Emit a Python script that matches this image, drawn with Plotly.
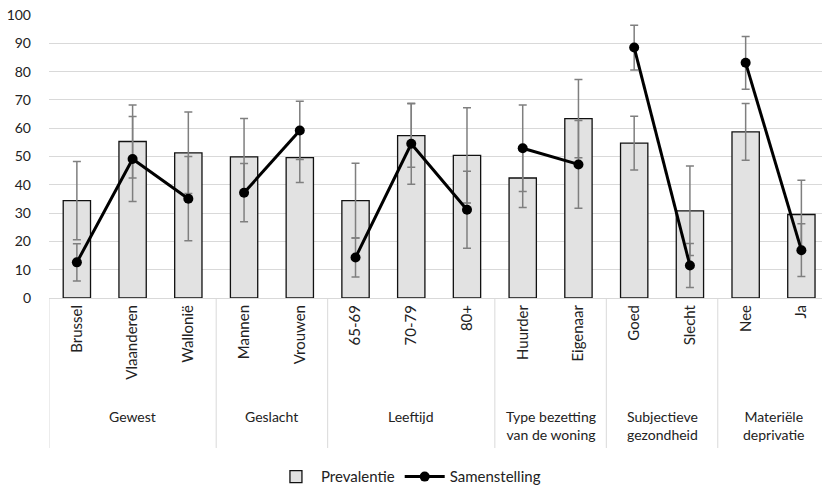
import plotly.graph_objects as go

categories = ["Brussel", "Vlaanderen", "Wallonië", "Mannen", "Vrouwen", "65-69", "70-79", "80+",
              "Huurder", "Eigenaar", "Goed", "Slecht", "Nee", "Ja"]
prevalentie = [34.4, 55.3, 51.3, 49.9, 49.6, 34.4, 57.4, 50.4, 42.4, 63.4, 54.7, 30.8, 58.7, 29.5]
prevalentie_err = [13.8, 12.9, 14.4, 13.5, 8.8, 13.2, 11.2, 16.8, 10.4, 13.8, 9.5, 15.8, 10.0, 12.1]
samenstelling = [12.6, 49.1, 35.1, 37.2, 59.2, 14.3, 54.5, 31.2, 52.9, 47.2, 88.5, 11.5, 83.1, 16.9]
samenstelling_err = [6.6, 15.0, 14.9, 10.3, 10.3, 6.9, 14.3, 13.6, 15.3, 15.5, 7.9, 7.8, 9.3, 9.3]
groups = ["Gewest", "Geslacht", "Leeftijd", "Type bezetting<br>van de woning",
          "Subjectieve<br>gezondheid", "Materiële<br>deprivatie"]
group_sizes = [3, 2, 3, 2, 2, 2]

FONT = "Lato"
ERR_COLOR = "#7f7f7f"

fig = go.Figure()
fig.add_trace(go.Bar(
    x=categories, y=prevalentie, name="Prevalentie",
    marker=dict(color="#e2e2e2", line=dict(color="#111111", width=1.3)),
    width=0.49,
    error_y=dict(type="data", array=prevalentie_err, color=ERR_COLOR, thickness=1.5, width=4),
))

# line segments only within groups
xs, ys, es = [], [], []
i = 0
for g, n in zip(groups, group_sizes):
    for k in range(n):
        xs.append(categories[i + k]); ys.append(samenstelling[i + k]); es.append(samenstelling_err[i + k])
    i += n
    xs.append(None); ys.append(None); es.append(None)
xs, ys, es = xs[:-1], ys[:-1], es[:-1]
fig.add_trace(go.Scatter(
    x=xs, y=ys, name="Samenstelling", mode="lines+markers", connectgaps=False,
    line=dict(color="black", width=3),
    marker=dict(color="black", size=10),
    error_y=dict(type="data", array=[e if e is not None else 0 for e in es], color=ERR_COLOR, thickness=1.5, width=4),
))

# group labels and separators
shapes = []
annotations = []
start = 0
for g, n in zip(groups, group_sizes):
    center = start + (n - 1) / 2
    annotations.append(dict(x=center, y=-0.382, xref="x", yref="paper", text=g, showarrow=False,
                            yanchor="top", xanchor="center",
                            font=dict(family=FONT, size=14, color="#222")))
    shapes.append(dict(type="line", xref="x", yref="paper", x0=start - 0.5, x1=start - 0.5,
                       y0=0, y1=-0.53, line=dict(color="#d9d9d9", width=1)))
    start += n

fig.update_layout(
    width=822, height=494,
    margin=dict(l=49, r=0, t=15, b=191),
    plot_bgcolor="white", paper_bgcolor="white",
    font=dict(family=FONT, size=13, color="#222"),
    showlegend=True,
    legend=dict(orientation="h", x=0.465, xanchor="center", y=-0.632, yanchor="middle",
                itemwidth=40, font=dict(family=FONT, size=15, color="#222")),
    shapes=shapes, annotations=annotations,
)
fig.update_xaxes(type="category", range=[-0.5, 13.37], tickangle=-90, showgrid=False,
                 showline=True, linecolor="#d9d9d9", ticks="", tickfont=dict(size=15),
                 automargin=False)
fig.update_yaxes(range=[0, 100], dtick=10, showgrid=True, gridcolor="#d9d9d9", gridwidth=1,
                 zeroline=False, ticks="", tickfont=dict(size=14), ticklabelstandoff=17,
                 ticklabeloverflow="allow", automargin=False)

fig.write_html("out.html", config={"displayModeBar": False},
               post_script="document.body.style.margin='0';")
